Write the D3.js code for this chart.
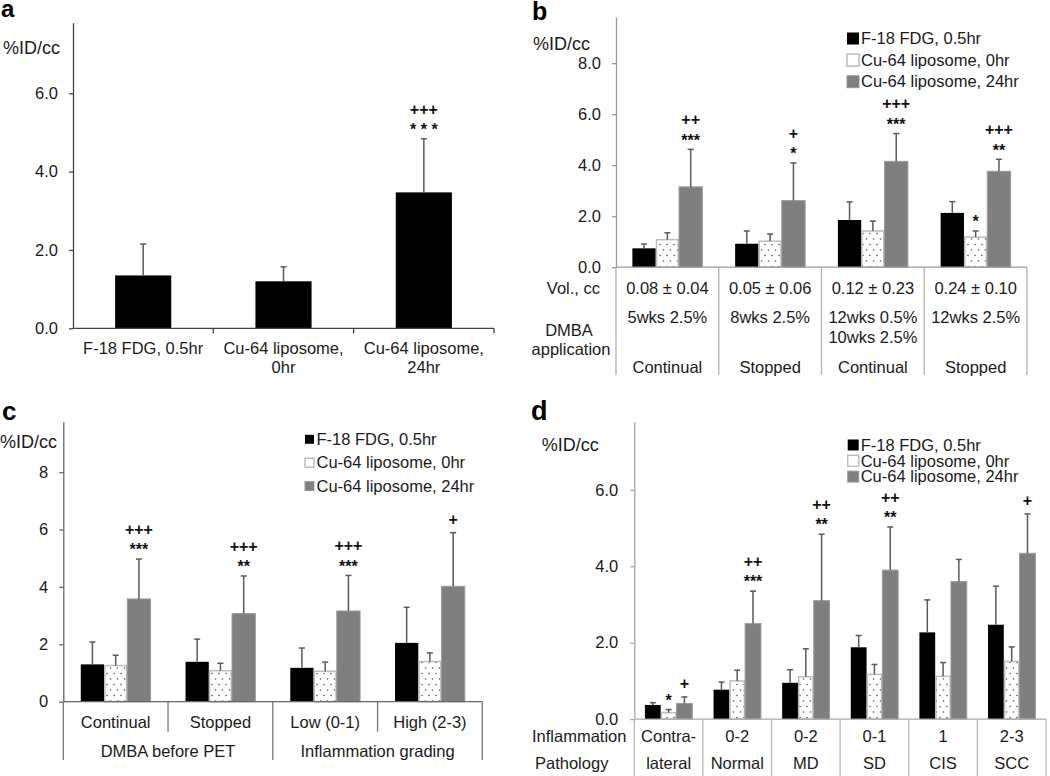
<!DOCTYPE html>
<html><head><meta charset="utf-8">
<script src="https://cdn.jsdelivr.net/npm/d3@7"></script>
<style>body{margin:0;background:#fff} svg{display:block}</style>
</head><body><svg id="chart" width="1050" height="776"></svg>
<script>
// ---------------- DATA ----------------
const seriesNames = ["F-18 FDG, 0.5hr", "Cu-64 liposome, 0hr", "Cu-64 liposome, 24hr"];

// Panel a
const aCategories = [["F-18 FDG, 0.5hr"], ["Cu-64 liposome,", "0hr"], ["Cu-64 liposome,", "24hr"]];
const aMeans = [1.35, 1.20, 3.47];
const aSD = [0.80, 0.37, 1.37];
const aMarks = ["", "", "+++|* * *"];
const aTicks = [0, 2, 4, 6];

// Panel b
const bVolume = ["0.08 ± 0.04", "0.05 ± 0.06", "0.12 ± 0.23", "0.24 ± 0.10"];
const bDMBA = [["5wks 2.5%"], ["8wks 2.5%"], ["12wks 0.5%", "10wks 2.5%"], ["12wks 2.5%"]];
const bStatus = ["Continual", "Stopped", "Continual", "Stopped"];
const bFDG = [0.74, 0.92, 1.85, 2.13];
const bFDGsd = [0.17, 0.50, 0.71, 0.44];
const bLipo0 = [1.08, 1.02, 1.42, 1.18];
const bLipo0sd = [0.27, 0.28, 0.39, 0.24];
const bLipo24 = [3.15, 2.61, 4.15, 3.76];
const bLipo24sd = [1.47, 1.48, 1.09, 0.47];
const bLipo0Marks = ["", "", "", "*"];
const bLipo24Marks = ["++|***", "+|*", "+++|***", "+++|**"];
const bTicks = [0, 2, 4, 6, 8];

// Panel c
const cSubgroups = ["Continual", "Stopped", "Low (0-1)", "High (2-3)"];
const cGroups = ["DMBA before PET", "Inflammation grading"];
const cFDG = [1.30, 1.39, 1.18, 2.05];
const cFDGsd = [0.78, 0.79, 0.69, 1.24];
const cLipo0 = [1.26, 1.08, 1.06, 1.40];
const cLipo0sd = [0.36, 0.26, 0.32, 0.30];
const cLipo24 = [3.58, 3.07, 3.16, 4.02];
const cLipo24sd = [1.39, 1.31, 1.24, 1.87];
const cLipo24Marks = ["+++|***", "+++|**", "+++|***", "+"];
const cTicks = [0, 2, 4, 6, 8];

// Panel d
const dInflammation = ["Contra-", "0-2", "0-2", "0-1", "1", "2-3"];
const dPathology = ["lateral", "Normal", "MD", "SD", "CIS", "SCC"];
const dFDG = [0.37, 0.77, 0.95, 1.88, 2.27, 2.47];
const dFDGsd = [0.06, 0.20, 0.34, 0.31, 0.85, 1.01];
const dLipo0 = [0.17, 1.00, 1.11, 1.17, 1.12, 1.51];
const dLipo0sd = [0.08, 0.28, 0.73, 0.26, 0.36, 0.38];
const dLipo24 = [0.41, 2.50, 3.10, 3.90, 3.60, 4.34];
const dLipo24sd = [0.17, 0.85, 1.74, 1.13, 0.58, 1.03];
const dLipo0Marks = ["*", "", "", "", "", ""];
const dLipo24Marks = ["+", "++|***", "++|**", "++|**", "", "+"];
const dTicks = [0, 2, 4, 6];

// ---------------- DRAWING ----------------
const FONT = '"Liberation Sans", Arial, Helvetica, sans-serif';
const FS = 16.5;
const TXT = "#1a1a1a";
const svg = d3.select("#chart");
svg.append("rect").attr("width", 1050).attr("height", 776).attr("fill", "#fff");

const defs = svg.append("defs");
const pat = defs.append("pattern").attr("id", "dots").attr("patternUnits", "userSpaceOnUse")
  .attr("width", 7).attr("height", 11);
pat.append("rect").attr("width", 7).attr("height", 11).attr("fill", "#fff");
pat.append("circle").attr("cx", 2).attr("cy", 2.5).attr("r", 0.8).attr("fill", "#555");
pat.append("circle").attr("cx", 5.5).attr("cy", 8).attr("r", 0.8).attr("fill", "#555");

function styleRect(sel, type) {
  if (type === "black") sel.attr("fill", "#000");
  else if (type === "dots") sel.attr("fill", "url(#dots)").attr("stroke", "#bdbdbd").attr("stroke-width", 1.5);
  else sel.attr("fill", "#7f7f7f").attr("stroke", "#9a9a9a").attr("stroke-width", 1);
}

function text(g, x, y, str, opts = {}) {
  return g.append("text").attr("x", x).attr("y", y).attr("dy", opts.dy ?? "0.35em")
    .attr("text-anchor", opts.anchor || "middle")
    .attr("font-family", FONT).attr("font-size", opts.size || FS)
    .attr("font-weight", opts.weight || "normal").attr("fill", opts.fill || TXT).text(str);
}

function drawMark(g, cx, yCenter, str) {
  const plus = str.indexOf("+") >= 0;
  const size = 16;
  const base = yCenter + (plus ? 0.34 : 0.58) * size;
  g.append("text").attr("x", cx).attr("y", base).attr("text-anchor", "middle")
    .attr("font-family", FONT).attr("font-size", size).attr("font-weight", "bold")
    .attr("fill", "#111").text(str);
}

function makePanel(cfg) {
  const g = svg.append("g");
  const xg = d3.scaleBand().domain(d3.range(cfg.n)).range([cfg.x0, cfg.x1]);
  const bw = xg.bandwidth();
  const ns = cfg.series.length;
  const w = bw * cfg.barRatio;
  const xs = d3.scaleBand().domain(d3.range(ns)).range([bw / 2 - ns * w / 2, bw / 2 + ns * w / 2]);
  const y = d3.scaleLinear().domain([0, cfg.domTop]).range([cfg.yBase, cfg.yTop]);

  const ya = g.append("g").attr("transform", `translate(${cfg.x0},0)`)
    .call(d3.axisLeft(y).tickValues(cfg.ticks).tickFormat(d3.format(cfg.fmt))
      .tickSize(4).tickSizeOuter(0).tickPadding(cfg.tickPad));
  ya.attr("font-family", FONT).attr("font-size", FS);
  ya.selectAll("path,line").attr("stroke", cfg.axisColor).attr("stroke-width", 1.3);
  ya.selectAll("text").attr("fill", TXT);

  cfg.series.forEach((s, si) => {
    s.vals.forEach((v, i) => {
      const bx = xg(i) + xs(si);
      const r = g.append("rect").attr("x", bx + (s.type === "dots" ? 0.75 : 0)).attr("y", y(v))
        .attr("width", w - (s.type === "dots" ? 1.5 : 0)).attr("height", y(0) - y(v));
      styleRect(r, s.type);
    });
  });
  g.append("line").attr("x1", cfg.x0).attr("x2", cfg.x1).attr("y1", cfg.yBase).attr("y2", cfg.yBase)
    .attr("stroke", cfg.axisColor).attr("stroke-width", 1.3);
  cfg.series.forEach((s, si) => {
    s.vals.forEach((v, i) => {
      const cx = xg(i) + xs(si) + w / 2;
      const top = y(v + s.sd[i]);
      g.append("line").attr("x1", cx).attr("x2", cx).attr("y1", y(v)).attr("y2", top)
        .attr("stroke", "#5a5a5a").attr("stroke-width", 1.5);
      g.append("line").attr("x1", cx - 3).attr("x2", cx + 3).attr("y1", top).attr("y2", top)
        .attr("stroke", "#5a5a5a").attr("stroke-width", 1.5);
      if (s.marks && s.marks[i]) {
        const lines = s.marks[i].split("|").reverse();
        lines.forEach((ln, k) => drawMark(g, cx, top - 13 - k * 16.5, ln));
      }
    });
  });
  return { g, xg, y, bw };
}

function legend(x, yStart, dy, sq, textX) {
  const types = ["black", "dots", "gray"];
  const g = svg.append("g");
  seriesNames.forEach((name, i) => {
    const cy = yStart + i * dy;
    const r = g.append("rect").attr("x", x).attr("y", cy - sq / 2).attr("width", sq).attr("height", sq);
    styleRect(r, types[i]);
    if (types[i] === "dots") r.attr("fill", "#fff").attr("stroke-width", 1.5);
    text(g, textX, cy, name, { anchor: "start" });
  });
}

// ---- Panel a ----
{
  const p = makePanel({
    n: 3, x0: 73, x1: 494, yBase: 328.3, yTop: 22.8, domTop: 7.8, ticks: aTicks, fmt: ".1f",
    tickPad: 11, axisColor: "#444", barRatio: 0.4,
    series: [{ vals: aMeans, sd: aSD, type: "black", marks: aMarks }]
  });
  aCategories.forEach((lines, i) => {
    const cx = p.xg(i) + p.bw / 2;
    lines.forEach((ln, k) => text(p.g, cx, 348 + k * 19, ln));
    const bx = p.xg(i) + p.bw;
    p.g.append("line").attr("x1", bx).attr("x2", bx).attr("y1", 328.3).attr("y2", 333.5)
      .attr("stroke", "#444").attr("stroke-width", 1.3);
  });
  text(svg, 1, 17, "a", { anchor: "start", size: 24, weight: "bold", dy: 0, fill: "#000" });
  text(svg, 3, 48, "%ID/cc", { anchor: "start", size: 18 });
}

// ---- Panel b ----
{
  const p = makePanel({
    n: 4, x0: 616, x1: 1027, yBase: 267.2, yTop: 17, domTop: 9.81, ticks: bTicks, fmt: ".1f",
    tickPad: 11, axisColor: "#9a9a9a", barRatio: 0.227,
    series: [
      { vals: bFDG, sd: bFDGsd, type: "black" },
      { vals: bLipo0, sd: bLipo0sd, type: "dots", marks: bLipo0Marks },
      { vals: bLipo24, sd: bLipo24sd, type: "gray", marks: bLipo24Marks }
    ]
  });
  const bounds = d3.range(5).map(i => i < 4 ? p.xg(i) : p.xg(3) + p.bw);
  bounds.forEach(bx => p.g.append("line").attr("x1", bx).attr("x2", bx).attr("y1", 267.2).attr("y2", 375)
    .attr("stroke", "#b0b0b0").attr("stroke-width", 1.3));
  d3.range(4).forEach(i => {
    const cx = p.xg(i) + p.bw / 2;
    text(p.g, cx, 288, bVolume[i]);
    bDMBA[i].forEach((ln, k) => text(p.g, cx, 317 + k * 20, ln));
    text(p.g, cx, 367, bStatus[i]);
  });
  text(p.g, 600, 288, "Vol., cc", { anchor: "end" });
  text(p.g, 569, 330, "DMBA");
  text(p.g, 571, 349, "application");
  text(svg, 532, 20, "b", { anchor: "start", size: 25, weight: "bold", dy: 0, fill: "#000" });
  text(svg, 533, 44, "%ID/cc", { anchor: "start", size: 18 });
  legend(847, 38.5, 21.6, 12, 861);
}

// ---- Panel c ----
{
  const p = makePanel({
    n: 4, x0: 63.3, x1: 482.3, yBase: 701.7, yTop: 421.7, domTop: 9.756, ticks: cTicks, fmt: "d",
    tickPad: 11, axisColor: "#666", barRatio: 0.222,
    series: [
      { vals: cFDG, sd: cFDGsd, type: "black" },
      { vals: cLipo0, sd: cLipo0sd, type: "dots" },
      { vals: cLipo24, sd: cLipo24sd, type: "gray", marks: cLipo24Marks }
    ]
  });
  const bounds = d3.range(5).map(i => i < 4 ? p.xg(i) : p.xg(3) + p.bw);
  bounds.forEach((bx, i) => p.g.append("line").attr("x1", bx).attr("x2", bx).attr("y1", 701.7)
    .attr("y2", i % 2 === 0 ? 760 : 731.7).attr("stroke", "#777").attr("stroke-width", 1.3));
  cSubgroups.forEach((lab, i) => text(p.g, p.xg(i) + p.bw / 2, 722.3, lab));
  cGroups.forEach((lab, j) => text(p.g, p.xg(2 * j) + p.bw, 751.7, lab));
  text(svg, 2, 420, "c", { anchor: "start", size: 26, weight: "bold", dy: 0, fill: "#000" });
  text(svg, 0, 441.7, "%ID/cc", { anchor: "start", size: 18 });
  legend(305, 439.3, 23.4, 9, 316.5);
}

// ---- Panel d ----
{
  const p = makePanel({
    n: 6, x0: 634.3, x1: 1046, yBase: 719.1, yTop: 421.7, domTop: 7.785, ticks: dTicks, fmt: ".1f",
    tickPad: 12, axisColor: "#a8a8a8", barRatio: 0.23,
    series: [
      { vals: dFDG, sd: dFDGsd, type: "black" },
      { vals: dLipo0, sd: dLipo0sd, type: "dots", marks: dLipo0Marks },
      { vals: dLipo24, sd: dLipo24sd, type: "gray", marks: dLipo24Marks }
    ]
  });
  const bounds = d3.range(7).map(i => i < 6 ? p.xg(i) : p.xg(5) + p.bw);
  bounds.forEach(bx => p.g.append("line").attr("x1", bx).attr("x2", bx).attr("y1", 719.1).attr("y2", 776)
    .attr("stroke", "#b8b8b8").attr("stroke-width", 1.3));
  d3.range(6).forEach(i => {
    const cx = p.xg(i) + p.bw / 2;
    text(p.g, cx, 736.7, dInflammation[i]);
    text(p.g, cx, 763.3, dPathology[i]);
  });
  text(p.g, 532, 736.7, "Inflammation", { anchor: "start" });
  text(p.g, 535, 763.3, "Pathology", { anchor: "start" });
  text(svg, 531, 420, "d", { anchor: "start", size: 27, weight: "bold", dy: 0, fill: "#000" });
  text(svg, 541.7, 445, "%ID/cc", { anchor: "start", size: 18 });
  legend(847.7, 445, 15.8, 11, 860.7);
}
</script>
</body></html>
